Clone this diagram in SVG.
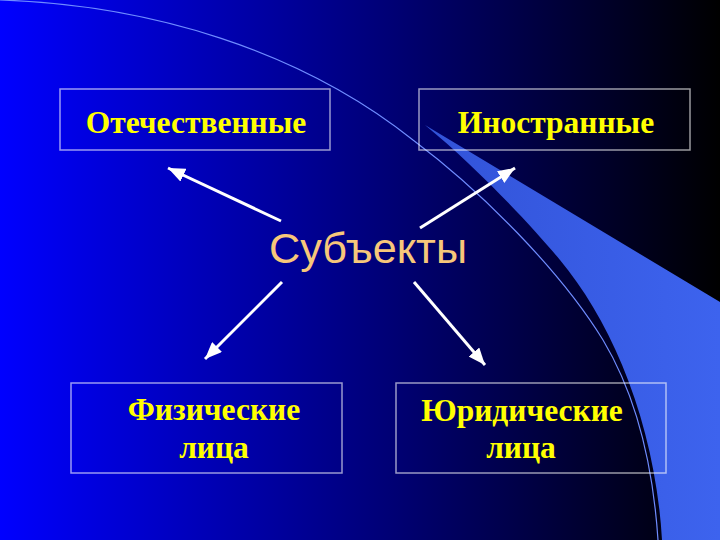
<svg xmlns="http://www.w3.org/2000/svg" width="720" height="540" viewBox="0 0 720 540">
<defs>
<linearGradient id="bg" x1="0" y1="0" x2="1" y2="0">
<stop offset="0" stop-color="#0000ff"/>
<stop offset="1" stop-color="#000000"/>
</linearGradient>
<linearGradient id="sw" x1="0" y1="0" x2="1" y2="0">
<stop offset="0" stop-color="#3253d8"/>
<stop offset="1" stop-color="#3d63ee"/>
</linearGradient>
<marker id="ah" markerUnits="userSpaceOnUse" markerWidth="18" markerHeight="14" refX="17" refY="7" orient="auto">
<path d="M0,0 L17,7 L0,14 Z" fill="#ffffff"/>
</marker>
<style>
.box{fill:none;stroke:#ffffff;stroke-opacity:0.6;stroke-width:1.5}
.lbl{font-family:"Liberation Serif","Times New Roman",serif;font-weight:bold;font-size:31.5px;fill:#ffff00;text-anchor:middle}
.arr{stroke:#ffffff;stroke-width:3;fill:none;marker-end:url(#ah)}
</style>
</defs>
<rect x="0" y="0" width="720" height="540" fill="url(#bg)"/>
<path d="M425,125 L720,302 L720,540 L662,540 C655,420 610,320 560,260 C535,230 480,170 425,125 Z" fill="url(#sw)"/>
<path d="M0,0 C150,5 300,50 413,140 C480,190 560,270 603,340 C630,385 652,450 658,540" fill="none" stroke="#6f8cff" stroke-width="1.2"/>
<g id="connectors">
<line class="arr" x1="281" y1="221" x2="168" y2="168"/>
<line class="arr" x1="420" y1="228" x2="515" y2="168"/>
<line class="arr" x1="282" y1="282" x2="205" y2="359"/>
<line class="arr" x1="414" y1="282" x2="485" y2="365"/>
</g>
<g id="center">
<text x="368" y="263" font-family="Liberation Sans, Arial, sans-serif" font-size="42" fill="#f7c77a" text-anchor="middle" textLength="198" lengthAdjust="spacingAndGlyphs">Субъекты</text>
</g>
<g id="node-domestic">
<rect class="box" x="60" y="89" width="270" height="61"/>
<text class="lbl" x="196" y="133">Отечественные</text>
</g>
<g id="node-foreign">
<rect class="box" x="419" y="89" width="271" height="61"/>
<text class="lbl" x="556" y="133">Иностранные</text>
</g>
<g id="node-individuals">
<rect class="box" x="71" y="383" width="271" height="90"/>
<text class="lbl" x="214" y="420">Физические</text>
<text class="lbl" x="214" y="458">лица</text>
</g>
<g id="node-legal">
<rect class="box" x="396" y="383" width="270" height="90"/>
<text class="lbl" x="522" y="421">Юридические</text>
<text class="lbl" x="521" y="458">лица</text>
</g>
</svg>
